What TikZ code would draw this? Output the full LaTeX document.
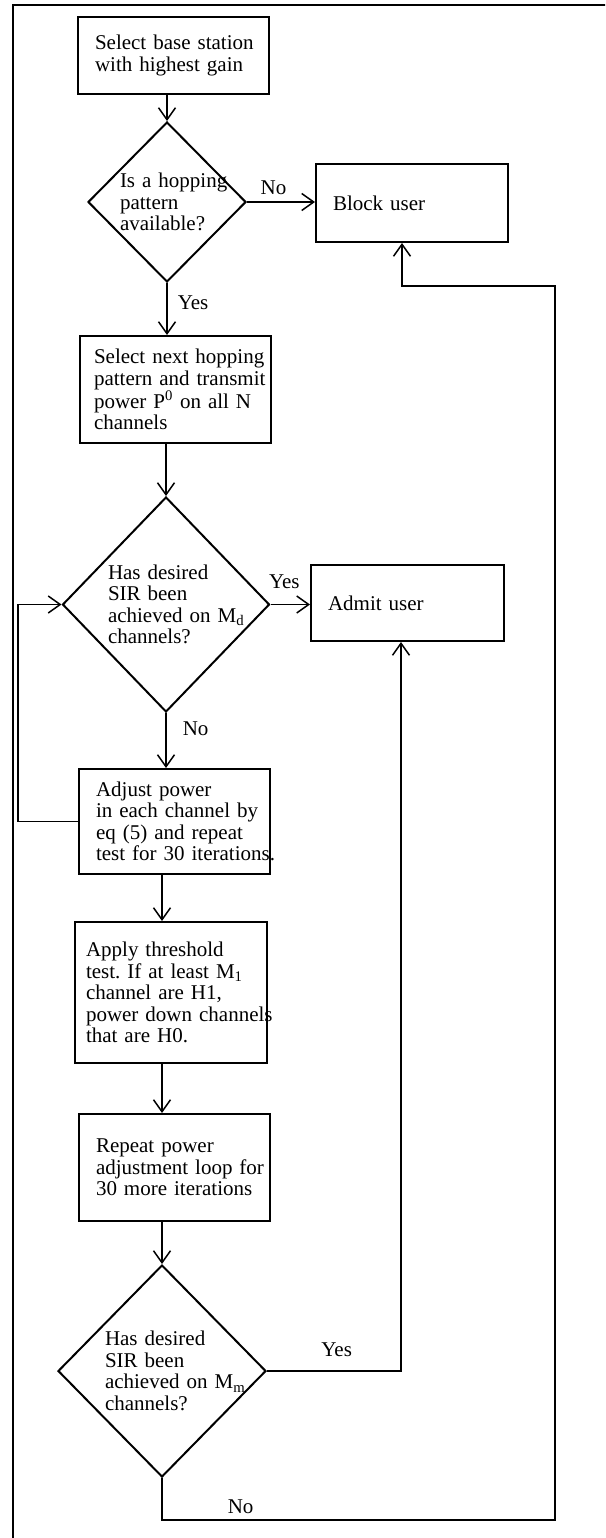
\documentclass[tikz,border=0pt]{standalone}
\usepackage{fontspec}
\setmainfont{Liberation Serif}
\usetikzlibrary{arrows.meta, shapes.geometric}
\frenchspacing
\tikzset{
    flowchart/.style={x=1pt, y=-1pt, line width=1.5pt, >={Straight Barb[length=12pt, width=17pt]},
        font=\fontsize{21}{21.5}\selectfont},
    block/.style={draw, rectangle, line width=2pt, align=left, inner ysep=0pt},
    decision/.style={draw, diamond, line width=2pt, align=left, inner sep=0pt},
    frame/.style={line width=2pt},
    % yes/no marks next to the branch they name
    answer/.style={inner sep=7pt},
}

\begin{document}
\begin{tikzpicture}[flowchart]
    \useasboundingbox (0,0) rectangle (605,1538);
    \clip (0,0) rectangle (605,1538);
    \draw[frame] (13,5) rectangle (620,1550);

    \node[block, text width=157pt, inner xsep=17pt, minimum height=77pt] (start) at (173.5,55.5)
        {\mbox{Select base station}\\with highest gain};
    \node[decision, text width=94pt, minimum width=158pt, minimum height=160pt] (avail) at (167,202)
        {\mbox{Is a hopping}\\pattern\\available?};
    \node[block, text width=158pt, inner xsep=17pt, minimum height=78pt] (block) at (412,203)
        {Block user};
    \node[block, text width=163pt, inner xsep=14pt, minimum height=107pt] (select) at (175.5,389.5)
        {\mbox{Select next hopping}\\\mbox{pattern and transmit}\\power P\textsuperscript{0} on all N\\channels};
    \node[decision, text width=116pt, minimum width=207pt, minimum height=215pt] (sird) at (166,604.5)
        {Has desired\\SIR been\\\mbox{achieved on M\textsubscript{d}}\\channels?};
    \node[block, text width=159pt, inner xsep=17pt, minimum height=76pt] (admit) at (407.5,603)
        {Admit user};
    \node[block, text width=157pt, inner xsep=17pt, minimum height=105pt] (adjust) at (174.5,821.5)
        {Adjust power\\\mbox{in each channel by}\\eq (5) and repeat\\\mbox{test for 30 iterations.}};
    \node[block, text width=170pt, inner xsep=11pt, minimum height=141pt] (thresh) at (171,992.5)
        {Apply threshold\\test. If at least M\textsubscript{1}\\channel are H1,\\\mbox{power down channels}\\that are H0.};
    \node[block, text width=157pt, inner xsep=17pt, minimum height=107pt] (again) at (174.5,1167.5)
        {Repeat power\\\mbox{adjustment loop for}\\\mbox{30 more iterations}};
    \node[decision, text width=114pt, minimum width=208pt, minimum height=212pt] (sirm) at (162,1371)
        {Has desired\\SIR been\\\mbox{achieved on M\textsubscript{m}}\\channels?};

    \coordinate (rbot) at (555,1520);
    \coordinate (rtop) at (555,286);

    \draw[->] (start.south -| avail.north) -- (avail.north);
    \draw[->] (avail.east) -- node[answer, above, pos=0.39] {No} (avail.east -| block.west);
    \draw[->] (avail.south) -- node[answer, right=3pt, pos=0.38] {Yes} (avail.south |- select.north);
    \draw[->] (select.south -| sird.north) -- (sird.north);
    \draw[->] (sird.east) -- node[answer, above=8pt, pos=0.35] {Yes} (sird.east -| admit.west);
    \draw[->] (sird.south) -- node[answer, right=9pt, pos=0.28] {No} (sird.south |- adjust.north);
    \draw[->] (adjust.west) -- ++(-60,0) |- (sird.west);
    \draw[->] (adjust.south -| sirm.north) -- (thresh.north -| sirm.north);
    \draw[->] (thresh.south -| sirm.north) -- (again.north -| sirm.north);
    \draw[->] (again.south -| sirm.north) -- (sirm.north);
    \draw[->] (sirm.east) -| node[answer, above=7pt, pos=0.26] {Yes} ([xshift=-6.5pt]admit.south);
    \draw[->] (sirm.south) |- node[answer, above=-1pt, pos=0.6] {No} (rbot) -- (rtop)
        -| ([xshift=-10pt]block.south);

\end{tikzpicture}
\end{document}
